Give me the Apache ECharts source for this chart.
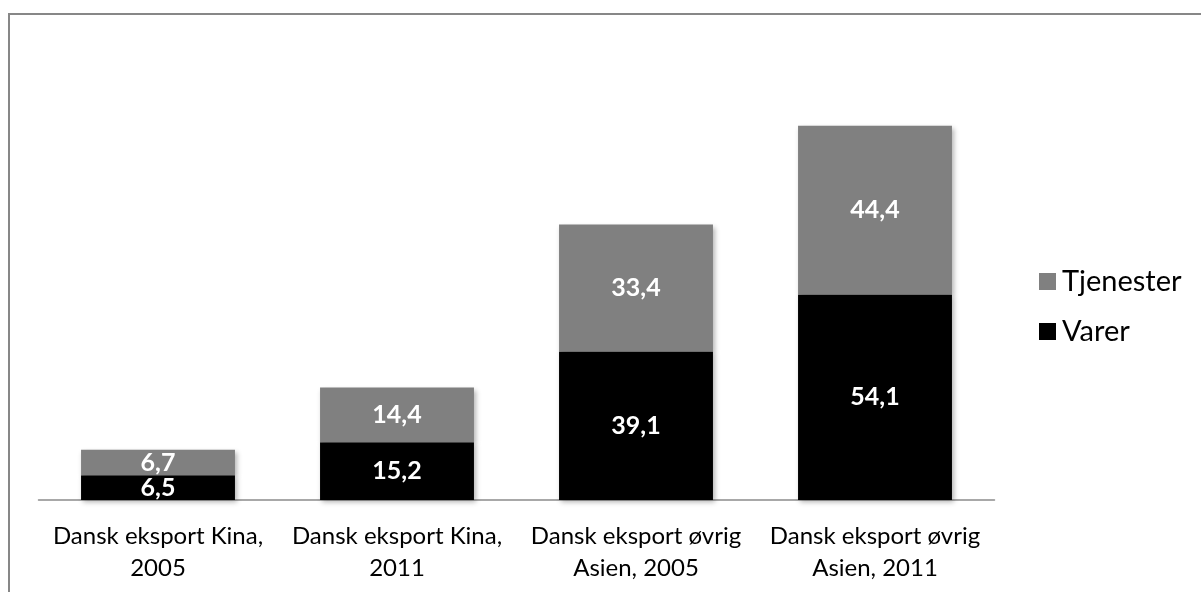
<!DOCTYPE html>
<html>
<head>
<meta charset="utf-8">
<script src="https://cdn.jsdelivr.net/npm/echarts@6/dist/echarts.min.js"></script>
<style>
  html, body { margin: 0; padding: 0; background: #fff; }
  #chart { width: 1201px; height: 592px; }
</style>
</head>
<body>
<div id="chart"></div>
<script>
// Dansk eksport: varer og tjenester (mia. kr.)
const categories = [
  'Dansk eksport Kina,\n2005',
  'Dansk eksport Kina,\n2011',
  'Dansk eksport øvrig\nAsien, 2005',
  'Dansk eksport øvrig\nAsien, 2011'
];
const varer = [6.5, 15.2, 39.1, 54.1];
const tjenester = [6.7, 14.4, 33.4, 44.4];

const fmt = p => String(p.value).replace('.', ',');
const font = 'Lato, "Open Sans", sans-serif';

const chart = echarts.init(document.getElementById('chart'), null, { renderer: 'canvas' });
chart.setOption({
  animation: false,
  backgroundColor: '#ffffff',
  textStyle: { fontFamily: font },
  graphic: [{
    type: 'rect',
    shape: { x: 9, y: 14, width: 1300, height: 700 },
    style: { fill: 'none', stroke: '#878787', lineWidth: 2 },
    silent: true
  }],
  grid: { left: 38.5, right: 206.5, top: 120, bottom: 92 },
  legend: {
    orient: 'vertical',
    left: 1034,
    top: 262,
    itemWidth: 17,
    itemHeight: 17,
    itemGap: 21,
    icon: 'rect',
    data: ['Tjenester', 'Varer'],
    textStyle: { fontSize: 29, color: '#000', fontFamily: font, padding: [0, 0, 0, 1] }
  },
  xAxis: {
    type: 'category',
    data: categories,
    axisLine: { lineStyle: { color: '#8c8c8c', width: 1.5 } },
    axisTick: { show: false },
    axisLabel: {
      color: '#000', fontSize: 24, lineHeight: 32, margin: 20,
      fontFamily: font, interval: 0
    }
  },
  yAxis: {
    type: 'value', min: 0, max: 100,
    show: false, splitLine: { show: false }
  },
  series: [
    {
      name: 'Varer', type: 'bar', stack: 'total', data: varer,
      barWidth: '64.4%',
      itemStyle: { color: '#000000', shadowBlur: 5, shadowOffsetX: 2, shadowOffsetY: 2, shadowColor: 'rgba(0,0,0,0.3)' },
      label: { show: true, position: 'inside', color: '#fff', fontWeight: 'bold', fontSize: 25, fontFamily: font, formatter: fmt }
    },
    {
      name: 'Tjenester', type: 'bar', stack: 'total', data: tjenester,
      barWidth: '64.4%',
      itemStyle: { color: '#808080', shadowBlur: 5, shadowOffsetX: 2, shadowOffsetY: 2, shadowColor: 'rgba(0,0,0,0.3)' },
      label: { show: true, position: 'inside', color: '#fff', fontWeight: 'bold', fontSize: 25, fontFamily: font, formatter: fmt }
    }
  ]
});
</script>
</body>
</html>
